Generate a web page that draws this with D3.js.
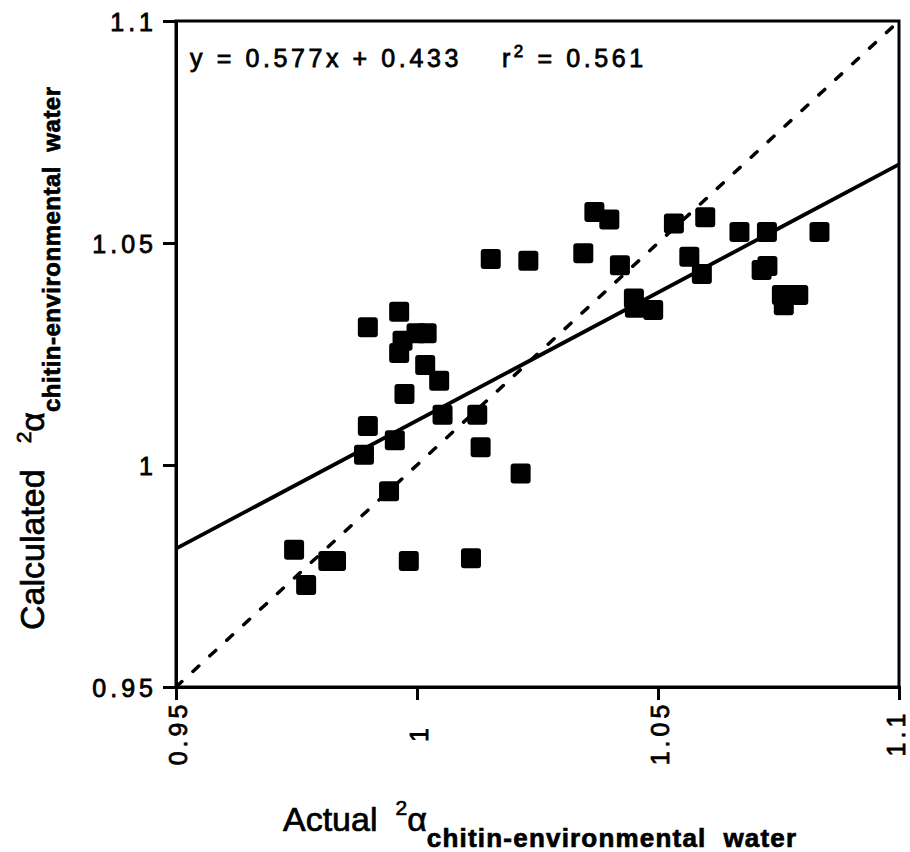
<!DOCTYPE html>
<html>
<head>
<meta charset="utf-8">
<script src="https://cdn.jsdelivr.net/npm/d3@7"></script>
<style>
  html, body { margin: 0; padding: 0; background: #fff; }
  svg { display: block; }
  text { font-family: "Liberation Sans", Arial, Helvetica, sans-serif; fill: #000; }
</style>
</head>
<body>
<script>
// Actual vs calculated fractionation factors (chitin vs environmental water)
const actual = [
  0.9745, 0.9770, 0.9816, 0.9832, 0.9890, 0.9898, 0.9898, 0.9942, 0.9954, 0.9963,
  0.9963, 0.9970, 0.9974, 0.9983, 0.9999, 1.0020, 1.0017, 1.0046, 1.0053, 1.0112,
  1.0125, 1.0132, 1.0153, 1.0215, 1.0231, 1.0345, 1.0368, 1.0399, 1.0421, 1.0450,
  1.0452, 1.0490, 1.0533, 1.0565, 1.0591, 1.0598, 1.0669, 1.0726, 1.0715, 1.0727,
  1.0757, 1.0791, 1.0761, 1.0835
];
const calculated = [
  0.9809, 0.9730, 0.9784, 0.9784, 1.0023, 1.0088, 1.0310, 0.9941, 1.0056, 1.0345,
  1.0252, 1.0280, 1.0160, 0.9784, 1.0297, 1.0297, 1.0225, 1.0190, 1.0113, 0.9790,
  1.0113, 1.0040, 1.0464, 0.9981, 1.0460, 1.0477, 1.0570, 1.0553, 1.0450, 1.0375,
  1.0354, 1.0349, 1.0544, 1.0469, 1.0430, 1.0558, 1.0525, 1.0525, 1.0439, 1.0448,
  1.0383, 1.0383, 1.0360, 1.0525
];
const xTicks = [0.95, 1.0, 1.05, 1.1];
const yTicks = [0.95, 1.0, 1.05, 1.1];
const xTickLabels = ["0.95", "1", "1.05", "1.1"];
const yTickLabels = ["0.95", "1", "1.05", "1.1"];
const fitSlope = 0.577;
const fitIntercept = 0.433;
const rSquared = 0.561;

const W = 910, H = 852;
const M = { left: 176, right: 899, top: 21, bottom: 687 };

const x = d3.scaleLinear().domain([0.95, 1.1]).range([M.left, M.right]);
const y = d3.scaleLinear().domain([0.95, 1.1]).range([M.bottom, M.top]);

const svg = d3.select("body").append("svg")
  .attr("width", W).attr("height", H);

const plot = svg.append("g");

// 1:1 reference line
plot.append("line")
  .attr("x1", x(0.95)).attr("y1", y(0.95))
  .attr("x2", x(1.1)).attr("y2", y(1.1))
  .attr("stroke", "#000").attr("stroke-width", 3.5)
  .attr("stroke-linecap", "round")
  .attr("stroke-dasharray", "8,15");

// least-squares fit
const fit = v => fitSlope * v + fitIntercept;
plot.append("line")
  .attr("x1", x(0.95)).attr("y1", y(fit(0.95)))
  .attr("x2", x(1.1)).attr("y2", y(fit(1.1)))
  .attr("stroke", "#000").attr("stroke-width", 3.8);

// data points
const pts = actual.map((a, i) => ({ a, c: calculated[i] }));
const S = 20;
plot.selectAll("rect.pt").data(pts).enter().append("rect")
  .attr("class", "pt")
  .attr("x", d => x(d.a) - S / 2)
  .attr("y", d => y(d.c) - S / 2)
  .attr("width", S).attr("height", S)
  .attr("rx", 3).attr("ry", 3)
  .attr("fill", "#000");

// frame
svg.append("rect")
  .attr("x", M.left).attr("y", M.top)
  .attr("width", M.right - M.left).attr("height", M.bottom - M.top)
  .attr("fill", "none").attr("stroke", "#000").attr("stroke-width", 3);

// axes
const tickFmtX = d => xTickLabels[xTicks.indexOf(d)];
const tickFmtY = d => yTickLabels[yTicks.indexOf(d)];

const xAxis = svg.append("g")
  .attr("transform", `translate(0,${M.bottom})`)
  .call(d3.axisBottom(x).tickValues(xTicks).tickFormat(tickFmtX).tickSize(13).tickPadding(0));
const yAxis = svg.append("g")
  .attr("transform", `translate(${M.left},0)`)
  .call(d3.axisLeft(y).tickValues(yTicks).tickFormat(tickFmtY).tickSize(13).tickPadding(0));

[xAxis, yAxis].forEach(g => {
  g.select(".domain").attr("stroke", "#000").attr("stroke-width", 3);
  g.selectAll(".tick line").attr("stroke", "#000").attr("stroke-width", 3);
  g.selectAll(".tick text")
    .style("font-family", '"Liberation Sans", Arial, sans-serif')
    .style("font-size", "25px")
    .style("letter-spacing", "4px")
    .attr("fill", "#000")
    .attr("stroke", "#000").attr("stroke-width", 0.8);
});

yAxis.selectAll(".tick text")
  .attr("x", -19).attr("dy", "0.36em").attr("text-anchor", "end");

xAxis.selectAll(".tick text")
  .attr("text-anchor", "middle")
  .attr("x", 0).attr("y", 0).attr("dy", "0.36em")
  .attr("transform", (d, i) => `translate(${i === xTicks.length - 1 ? -4 : 1},46) rotate(-90)`);

// equation
const eq = svg.append("text")
  .attr("x", 190).attr("y", 67)
  .style("font-size", "25px").style("letter-spacing", "3.6px")
  .attr("stroke", "#000").attr("stroke-width", 0.8);
eq.append("tspan").text(`y = ${fitSlope}x + ${fitIntercept}`);
eq.append("tspan").attr("dx", 40).text("r");
eq.append("tspan").attr("dy", -10).style("font-size", "17px").text("2");
eq.append("tspan").attr("dy", 10).text(` = ${rSquared}`);

// axis titles
function title(g, main, opt) {
  g.attr("stroke", "#000").attr("stroke-width", 0.7);
  g.append("tspan").style("font-size", "34px").text(main);
  g.append("tspan").attr("dx", opt.gap).attr("dy", opt.sup).style("font-size", "21px").text("2");
  g.append("tspan").attr("dy", -opt.sup).style("font-size", "34px").text("α");
  g.append("tspan").attr("dy", opt.sub)
    .style("font-size", opt.subSize + "px").style("font-weight", "bold")
    .style("letter-spacing", opt.spacing + "px")
    .text("chitin-environmental\u00a0\u00a0water");
}

title(svg.append("text").attr("x", 283).attr("y", 831), "Actual",
  { gap: 18, sup: -16, sub: 16, subSize: 26, spacing: 1.2 });

title(svg.append("text").attr("transform", `translate(44,630) rotate(-90)`), "Calculated",
  { gap: 26, sup: -13, sub: 16, subSize: 24, spacing: 0.5 });
</script>
</body>
</html>
